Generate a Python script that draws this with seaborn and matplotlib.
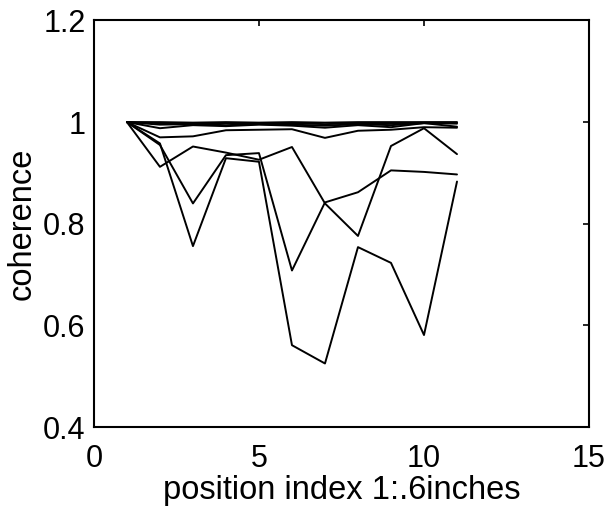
import numpy as np
import pandas as pd
import matplotlib
matplotlib.use("Agg")
import matplotlib.pyplot as plt
import seaborn as sns

# Coherence measured at each sensor position (index 1..11, 0.6 inch spacing)
position = [1, 2, 3, 4, 5, 6, 7, 8, 9, 10, 11]

coh_1 = [1.000, 1.000, 0.999, 1.000, 0.999, 1.000, 0.999, 1.000, 1.000, 1.000, 1.000]
coh_2 = [1.000, 0.998, 0.997, 0.998, 0.997, 0.998, 0.996, 0.998, 0.997, 0.999, 0.999]
coh_3 = [1.000, 0.995, 0.996, 0.994, 0.996, 0.995, 0.993, 0.996, 0.994, 0.998, 0.997]
coh_4 = [1.000, 0.988, 0.994, 0.992, 0.995, 0.993, 0.989, 0.994, 0.990, 0.998, 0.991]
coh_5 = [1.000, 0.970, 0.972, 0.984, 0.985, 0.986, 0.969, 0.983, 0.985, 0.990, 0.989]
coh_6 = [1.000, 0.912, 0.952, 0.940, 0.926, 0.951, 0.840, 0.776, 0.953, 0.988, 0.937]
coh_7 = [1.000, 0.955, 0.840, 0.935, 0.939, 0.708, 0.842, 0.862, 0.905, 0.902, 0.897]
coh_8 = [1.000, 0.958, 0.756, 0.929, 0.922, 0.561, 0.525, 0.754, 0.723, 0.581, 0.883]

series = [coh_1, coh_2, coh_3, coh_4, coh_5, coh_6, coh_7, coh_8]

x_ticks = [0, 5, 10, 15]
y_ticks = [0.4, 0.6, 0.8, 1.0, 1.2]
y_tick_labels = ["0.4", "0.6", "0.8", "1", "1.2"]

df = pd.concat(
    [pd.DataFrame({"position": position, "coherence": vals, "run": i})
     for i, vals in enumerate(series)],
    ignore_index=True,
)

sns.set_style("white")
plt.rcParams["font.family"] = ["Liberation Sans", "DejaVu Sans"]

fig = plt.figure(figsize=(6.1, 5.12), dpi=100)
ax = fig.add_axes([0.154, 0.166, 0.8116, 0.794])

sns.lineplot(
    data=df, x="position", y="coherence", units="run", estimator=None,
    color="black", linewidth=1.4, ax=ax, legend=False,
)

ax.set_xlim(0, 15)
ax.set_ylim(0.4, 1.2)
ax.set_xticks(x_ticks)
ax.set_xticklabels([str(t) for t in x_ticks])
ax.set_yticks(y_ticks)
ax.set_yticklabels(y_tick_labels)

ax.tick_params(direction="in", length=4, width=1.2, top=True, right=True,
               labelsize=22, colors="black", labelcolor="black")
ax.tick_params(axis="x", pad=12)
ax.tick_params(axis="y", pad=6)
for side in ax.spines.values():
    side.set_visible(True)
    side.set_color("black")
    side.set_linewidth(1.5)

ax.set_xlabel("position index 1:.6inches", fontsize=23.5, color="black", labelpad=1)
ax.set_ylabel("coherence", fontsize=23.5, color="black", labelpad=4)

fig.savefig("out.png", dpi=100, facecolor="white")
